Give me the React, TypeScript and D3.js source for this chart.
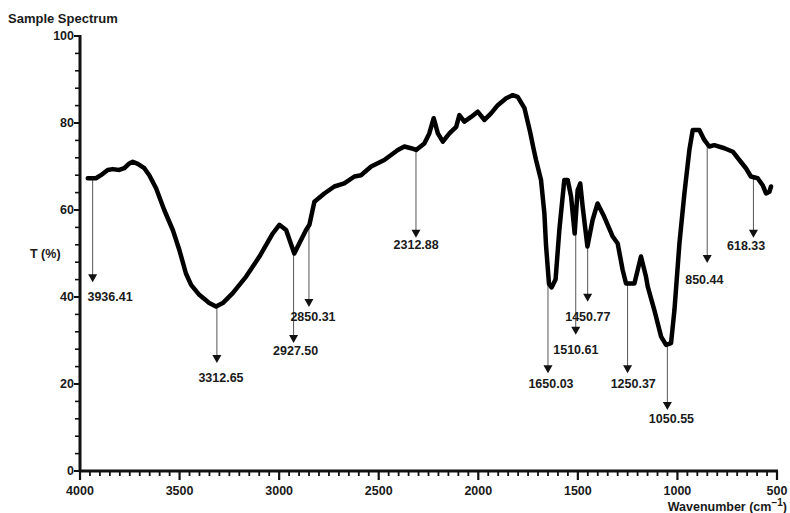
import React from "react";
import * as d3 from "d3";

// FT-IR transmittance spectrum, traced along the wavenumber axis (cm^-1)
const wavenumbers = [
  3961, 3920, 3895, 3861, 3836, 3803, 3778, 3752, 3735, 3710, 3677, 3652, 3618, 3577,
  3534, 3501, 3468, 3442, 3401, 3351, 3317, 3283, 3233, 3166, 3099, 3032, 2999, 2965,
  2924, 2899, 2865, 2848, 2823, 2773, 2723, 2673, 2622, 2589, 2538, 2472, 2404, 2371,
  2338, 2312, 2271, 2246, 2224, 2203, 2178, 2145, 2111, 2095, 2070, 2036, 2003, 1969,
  1936, 1902, 1860, 1827, 1802, 1768, 1740, 1722, 1710, 1685, 1668, 1660, 1645, 1632,
  1612, 1593, 1568, 1551, 1534, 1516, 1501, 1488, 1476, 1452, 1426, 1401, 1368, 1325,
  1300, 1275, 1258, 1216, 1183, 1158, 1149, 1116, 1082, 1057, 1032, 1015, 990, 965,
  940, 923, 890, 865, 840, 815, 764, 722, 689, 656, 631, 597, 572, 555, 538, 530,
];

const transmittance = [
  67.3, 67.3, 68.0, 69.2, 69.4, 69.2, 69.6, 70.7, 71.1, 70.6, 69.6, 68.0, 65.0, 60.0,
  55.4, 50.8, 45.4, 42.8, 40.5, 38.6, 37.8, 38.6, 40.9, 44.7, 49.3, 54.6, 56.6, 55.4,
  50.0, 52.3, 55.4, 56.6, 61.9, 63.8, 65.4, 66.1, 67.7, 68.0, 70.0, 71.5, 73.8, 74.6,
  74.2, 73.8, 75.3, 77.6, 81.1, 77.6, 75.7, 77.6, 79.1, 81.8, 80.3, 81.4, 82.6, 80.7,
  82.2, 84.1, 85.7, 86.4, 86.0, 83.4, 78.0, 74.0, 71.5, 66.9, 59.2, 52.0, 43.0, 42.2,
  44.0, 55.4, 66.9, 66.9, 63.1, 54.6, 64.6, 66.1, 60.8, 51.6, 57.7, 61.5, 58.5, 53.9,
  52.3, 46.2, 43.1, 43.1, 49.3, 44.7, 42.4, 37.0, 30.9, 29.0, 29.4, 37.0, 52.3, 63.8,
  73.8, 78.4, 78.4, 76.1, 74.6, 74.9, 74.2, 73.4, 71.5, 69.6, 67.7, 67.3, 65.7, 63.8,
  64.2, 65.4,
];

// Annotated band positions (cm^-1)
const peakWavenumbers = [
  3936.41, 3312.65, 2927.5, 2850.31, 2312.88, 1650.03, 1510.61, 1450.77, 1250.37,
  1050.55, 850.44, 618.33,
];

// Where each annotation arrow ends and its label sits, in axis units
const arrowTipT = [43.4, 24.8, 29.4, 37.7, 53.6, 22.5, 31.3, 38.9, 22.5, 14.0, 47.8, 53.6];
const labelT = [40.0, 21.4, 27.7, 35.6, 52.0, 20.0, 27.8, 35.6, 20.0, 12.0, 43.9, 51.7];
const labelWn = [3849, 3292, 2917, 2830, 2312, 1635, 1510, 1450, 1222, 1030, 865, 655];

const yMajorTicks = [0, 20, 40, 60, 80, 100];
const xMajorTicks = [4000, 3500, 3000, 2500, 2000, 1500, 1000, 500];

const W = 790;
const H = 513;
const FONT = "'Liberation Sans', Arial, sans-serif";
const INK = "#1a1a1a";

export default function App() {
  const x = d3.scaleLinear().domain([4000, 500]).range([80, 777]);
  const y = d3.scaleLinear().domain([0, 100]).range([471, 36]);

  const points = wavenumbers.map((w, i) => [w, transmittance[i]] as [number, number]);
  const line = d3
    .line<[number, number]>()
    .x((d) => x(d[0]))
    .y((d) => y(d[1]))
    .curve(d3.curveLinear);

  // Transmittance at an arbitrary wavenumber, by linear interpolation of the trace
  const ascending = [...points].reverse();
  const bis = d3.bisector((d: [number, number]) => d[0]).left;
  const valueAt = (w: number) => {
    const i = Math.max(1, Math.min(ascending.length - 1, bis(ascending, w)));
    const a = ascending[i - 1];
    const b = ascending[i];
    const t = (w - a[0]) / (b[0] - a[0]);
    return a[1] + (b[1] - a[1]) * t;
  };

  const yMinor = d3.range(0, 100.01, 4).filter((v) => !yMajorTicks.includes(v));
  const xMinor = d3.range(500, 4000.01, 50).filter((v) => !xMajorTicks.includes(v));
  const fmt = d3.format(".2f");

  return (
    <svg
      width={W}
      height={H}
      style={{ position: "absolute", left: 0, top: 0, background: "#fff" }}
      fontFamily={FONT}
    >
      <rect width={W} height={H} fill="#fff" />
      <text x={8} y={23} fontSize={13} fontWeight="bold" fill={INK}>
        Sample Spectrum
      </text>

      {/* Y axis */}
      <line x1={x(4000)} x2={x(4000)} y1={y(100) - 1} y2={y(0) + 1} stroke="#111" strokeWidth={3} />
      {yMinor.map((v) => (
        <line key={"ym" + v} x1={x(4000) - 5} x2={x(4000)} y1={y(v)} y2={y(v)} stroke="#111" strokeWidth={1.6} />
      ))}
      {yMajorTicks.map((v) => (
        <g key={"yM" + v}>
          <line x1={x(4000) - 6} x2={x(4000)} y1={y(v)} y2={y(v)} stroke="#111" strokeWidth={2} />
          <text x={x(4000) - 6} y={y(v)} dy="0.35em" textAnchor="end" fontSize={12.5} fontWeight="bold" fill={INK}>
            {v}
          </text>
        </g>
      ))}
      <text x={30} y={y(50)} dy="0.35em" fontSize={12.5} fontWeight="bold" fill={INK}>
        T (%)
      </text>

      {/* X axis */}
      <line x1={x(4000) - 1} x2={x(500) + 1} y1={y(0)} y2={y(0)} stroke="#111" strokeWidth={3} />
      {xMinor.map((v) => (
        <line key={"xm" + v} x1={x(v)} x2={x(v)} y1={y(0)} y2={y(0) + 5} stroke="#111" strokeWidth={1.8} />
      ))}
      {xMajorTicks.map((v) => (
        <g key={"xM" + v}>
          <line x1={x(v)} x2={x(v)} y1={y(0)} y2={y(0) + 9} stroke="#111" strokeWidth={2.2} />
          <text x={x(v)} y={y(0) + 24} textAnchor="middle" fontSize={12.5} fontWeight="bold" fill={INK}>
            {v}
          </text>
        </g>
      ))}
      <text x={787} y={511} textAnchor="end" fontSize={12.5} fontWeight="bold" fill={INK}>
        Wavenumber (cm
        <tspan dy={-5} fontSize={10}>−1</tspan>
        <tspan dy={5}>)</tspan>
      </text>

      {/* Peak annotations */}
      {peakWavenumbers.map((w, i) => {
        const px = x(w);
        const top = y(valueAt(w));
        const tip = y(arrowTipT[i]);
        return (
          <g key={"pk" + i}>
            <line x1={px} x2={px} y1={top} y2={tip - 6} stroke="#555" strokeWidth={1} />
            <path d={`M${px - 4.5},${tip - 8} L${px + 4.5},${tip - 8} L${px},${tip} Z`} fill="#111" />
            <text
              x={x(labelWn[i])}
              y={y(labelT[i])}
              dy="0.35em"
              textAnchor="middle"
              fontSize={12.5}
              fontWeight="bold"
              fill={INK}
            >
              {fmt(w)}
            </text>
          </g>
        );
      })}

      {/* Spectrum trace */}
      <path
        d={line(points) ?? ""}
        fill="none"
        stroke="#000"
        strokeWidth={4.5}
        strokeLinejoin="round"
        strokeLinecap="round"
      />
    </svg>
  );
}
